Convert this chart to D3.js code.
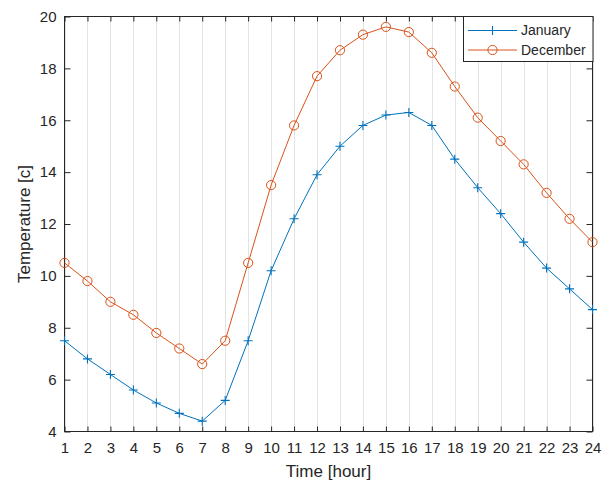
<!DOCTYPE html>
<html>
<head>
<meta charset="utf-8">
<script src="https://cdn.jsdelivr.net/npm/d3@7"></script>
<style>
  body { margin: 0; background: #fff; }
  text { font-family: "Liberation Sans", Arial, sans-serif; fill: #262626; }
</style>
</head>
<body>
<div id="js_chart"></div>
<script>
// Data
const hours = d3.range(1, 25);
const january = [7.5, 6.8, 6.2, 5.6, 5.1, 4.7, 4.4, 5.2, 7.5, 10.2, 12.2, 13.9,
                 15.0, 15.8, 16.2, 16.3, 15.8, 14.5, 13.4, 12.4, 11.3, 10.3, 9.5, 8.7];
const december = [10.5, 9.8, 9.0, 8.5, 7.8, 7.2, 6.6, 7.5, 10.5, 13.5, 15.8, 17.7,
                  18.7, 19.3, 19.6, 19.4, 18.6, 17.3, 16.1, 15.2, 14.3, 13.2, 12.2, 11.3];
const yTicks = [4, 6, 8, 10, 12, 14, 16, 18, 20];
const seriesNames = ["January", "December"];

function createPlot() {
    let width = 610, height = 482;
    let box = {left: 64.5, top: 16.5, right: 592.5, bottom: 431.5};
    let ink = "#262626";

    let x = d3.scaleLinear().domain([1, 24]).range([box.left, box.right]);
    let y = d3.scaleLinear().domain([4, 20]).range([box.bottom, box.top]);

    let svg = d3.select("#js_chart")
        .append("svg")
        .attr("width", width)
        .attr("height", height);

    svg.append("rect").attr("width", width).attr("height", height).attr("fill", "#fff");

    // vertical grid only
    svg.append("g").selectAll("line").data(hours).enter().append("line")
        .attr("x1", d => Math.round(x(d)) + 0.5).attr("x2", d => Math.round(x(d)) + 0.5)
        .attr("y1", box.top).attr("y2", box.bottom)
        .attr("stroke", "#e3e3e3").attr("stroke-width", 1);

    // axes (ticks inward, box drawn separately)
    let styleAxis = function (g) {
        g.select(".domain").remove();
        g.selectAll(".tick line").attr("stroke", ink);
        g.selectAll(".tick text").attr("font-size", 15).attr("fill", ink)
            .style("font-family", "'Liberation Sans', Arial, sans-serif");
    };

    svg.append("g").attr("transform", "translate(0," + box.bottom + ")")
        .call(d3.axisBottom(x).tickValues(hours).tickSize(-5).tickPadding(11).tickFormat(d3.format("d")))
        .call(styleAxis);
    svg.append("g").attr("transform", "translate(0," + box.top + ")")
        .call(d3.axisTop(x).tickValues(hours).tickSize(-5).tickFormat(""))
        .call(styleAxis);
    svg.append("g").attr("transform", "translate(" + box.left + ",0)")
        .call(d3.axisLeft(y).tickValues(yTicks).tickSize(-6).tickPadding(8).tickFormat(d3.format("d")))
        .call(styleAxis);
    svg.append("g").attr("transform", "translate(" + box.right + ",0)")
        .call(d3.axisRight(y).tickValues(yTicks).tickSize(-6).tickFormat(""))
        .call(styleAxis);

    svg.append("rect")
        .attr("x", box.left).attr("y", box.top)
        .attr("width", box.right - box.left).attr("height", box.bottom - box.top)
        .attr("fill", "none").attr("stroke", ink).attr("stroke-width", 1);

    // axis titles
    svg.append("text")
        .attr("x", (box.left + box.right) / 2).attr("y", 477)
        .attr("text-anchor", "middle").attr("font-size", 17)
        .text("Time [hour]");
    svg.append("text")
        .attr("transform", "translate(29.5," + (box.top + box.bottom) / 2 + ") rotate(-90)")
        .attr("text-anchor", "middle").attr("font-size", 17)
        .text("Temperature [c]");

    let line = d3.line().x((d, i) => x(hours[i])).y(d => y(d));
    let colors = ["#0072BD", "#D95319"];
    let plus = "M-4.5,0H4.5M0,-4.5V4.5";

    // January
    svg.append("path").datum(january).attr("d", line)
        .attr("fill", "none").attr("stroke", colors[0]).attr("stroke-width", 1);
    svg.append("g").selectAll("path").data(january).enter().append("path")
        .attr("d", plus)
        .attr("transform", (d, i) => "translate(" + x(hours[i]) + "," + y(d) + ")")
        .attr("stroke", colors[0]).attr("stroke-width", 1.1).attr("fill", "none");

    // December
    svg.append("path").datum(december).attr("d", line)
        .attr("fill", "none").attr("stroke", colors[1]).attr("stroke-width", 1);
    svg.append("g").selectAll("circle").data(december).enter().append("circle")
        .attr("cx", (d, i) => x(hours[i])).attr("cy", d => y(d)).attr("r", 4.6)
        .attr("stroke", colors[1]).attr("stroke-width", 1).attr("fill", "none");

    // legend
    let lg = svg.append("g");
    lg.append("rect").attr("x", 463.5).attr("y", 16.5).attr("width", 129.5).attr("height", 45)
        .attr("fill", "#fff").attr("stroke", ink).attr("stroke-width", 1);
    let rows = [30.5, 50];
    seriesNames.forEach(function (name, i) {
        lg.append("line").attr("x1", 468).attr("x2", 517).attr("y1", rows[i]).attr("y2", rows[i])
            .attr("stroke", colors[i]).attr("stroke-width", 1);
        if (i === 0) {
            lg.append("path").attr("d", plus).attr("transform", "translate(492.5," + rows[i] + ")")
                .attr("stroke", colors[i]).attr("stroke-width", 1.1);
        } else {
            lg.append("circle").attr("cx", 492.5).attr("cy", rows[i]).attr("r", 4.6)
                .attr("stroke", colors[i]).attr("fill", "none");
        }
        lg.append("text").attr("x", 521).attr("y", rows[i]).attr("dy", "0.35em")
            .attr("font-size", 14).text(name);
    });
}

createPlot();
</script>
</body>
</html>
